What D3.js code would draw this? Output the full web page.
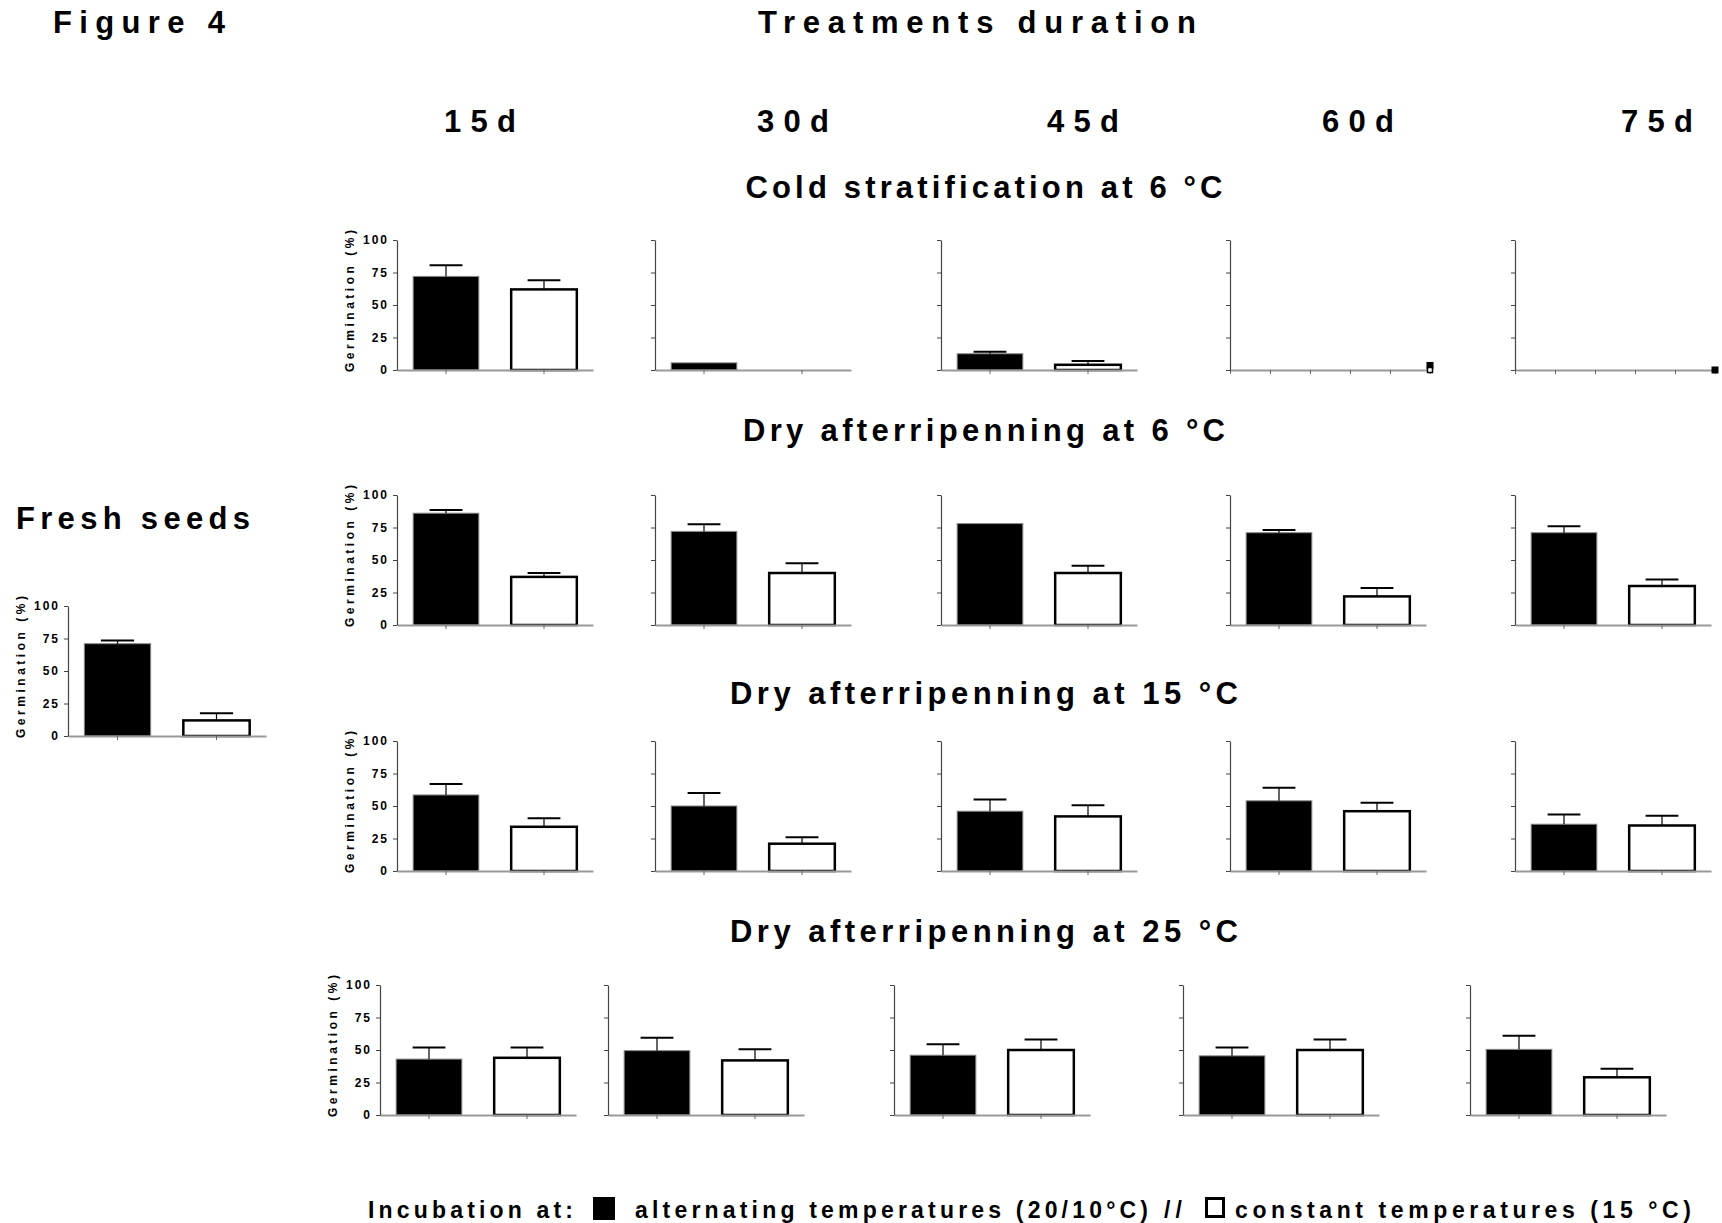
<!DOCTYPE html>
<html>
<head>
<meta charset="utf-8">
<script src="https://d3js.org/d3.v7.min.js"></script>
<style>
body { margin: 0; background: #fff; }
svg text { font-family: "Liberation Sans", Arial, sans-serif; font-weight: bold; fill: #000; }
.yax .domain { stroke: #444; stroke-width: 1.2; }
.yax .tick line { stroke: #444; }
.xax .domain { stroke: #999; stroke-width: 2; }
.xax .tick line { stroke: #666; }
.yax .tick text { font-size: 12px; letter-spacing: 2px; }
</style>
</head>
<body>
<script>
// durations (columns) and treatments (rows)
var durations = ["15d", "30d", "45d", "60d", "75d"];
var treatments = ["Cold stratification at 6 °C", "Dry afterripenning at 6 °C",
                  "Dry afterripenning at 15 °C", "Dry afterripenning at 25 °C"];
var yTicks = [0, 25, 50, 75, 100];
var incubations = ["alt", "const"];

// germination (%) means and sem, alternating 20/10 °C vs constant 15 °C
var freshAlt = 71, freshAltSem = 2.5;
var freshConst = 12, freshConstSem = 5.5;

var coldAlt      = [72, 5.5, 12.5];
var coldAltSem   = [8.5, 0, 1.5];
var coldConst    = [62, 0, 4];
var coldConstSem = [7, 0, 3];
// 60d and 75d cold stratification: only tiny markers at the last x position
var coldLateAlt   = [3.5, 0];
var coldLateConst = [0, null];

var dry6Alt      = [86, 72, 78, 71, 71];
var dry6AltSem   = [2.5, 5.5, 0, 2, 5];
var dry6Const    = [37, 40, 40, 22, 30];
var dry6ConstSem = [3, 7.5, 5.5, 6.5, 5];

var dry15Alt      = [58.5, 50, 46, 54, 36];
var dry15AltSem   = [8.5, 10, 9, 10, 7.5];
var dry15Const    = [34, 21, 42, 46, 35];
var dry15ConstSem = [6.5, 5, 8.5, 6.5, 7.5];

var dry25Alt      = [43, 49.5, 46, 45.5, 50.5];
var dry25AltSem   = [9, 10, 8.5, 6.5, 10.5];
var dry25Const    = [44, 42, 50, 50, 29];
var dry25ConstSem = [8, 8.5, 8, 8, 6.5];

// layout
var W = 1722, H = 1223;
var panelW = 196, panelH = 130;
var rowTop = [240, 495, 741, 985];
var colLeft = [[397, 655, 941, 1230, 1515], [397, 655, 941, 1230, 1515],
               [397, 655, 941, 1230, 1515], [380, 608, 894, 1183, 1470]];

var svg = d3.select("body").append("svg")
    .attr("width", W)
    .attr("height", H);

function spaced(x, y, str, size, len, anchor) {
  return svg.append("text")
      .attr("x", x).attr("y", y)
      .attr("text-anchor", anchor || "middle")
      .attr("font-size", size)
      .attr("textLength", len)
      .attr("lengthAdjust", "spacing")
      .text(str);
}

var yScale = d3.scaleLinear().domain([0, 100]).range([panelH, 0]);

function yAxis(g, labels) {
  g.append("g")
      .attr("class", "yax")
      .call(d3.axisLeft(yScale).tickValues(yTicks).tickSize(4).tickSizeOuter(0).tickPadding(4)
        .tickFormat(labels ? d3.format("d") : ""));
  if (labels) {
    g.append("text")
        .attr("transform", "translate(-43," + (panelH / 2 - 4) + ") rotate(-90)")
        .attr("text-anchor", "middle")
        .attr("font-size", 12)
        .attr("textLength", 142)
        .attr("lengthAdjust", "spacing")
        .text("Germination (%)");
  }
}

function barPanel(x0, y0, w, alt, altSem, cons, consSem, labels) {
  var g = svg.append("g").attr("transform", "translate(" + x0 + "," + y0 + ")");
  var x = d3.scaleBand().domain(incubations).range([0, w]).paddingInner(0.33).paddingOuter(0.165);
  var data = [{k: "alt", v: alt, e: altSem}, {k: "const", v: cons, e: consSem}];

  g.selectAll(".bar").data(data).enter().append("rect")
      .attr("x", function(d) { return x(d.k); })
      .attr("y", function(d) { return yScale(d.v); })
      .attr("width", x.bandwidth())
      .attr("height", function(d) { return panelH - yScale(d.v); })
      .attr("fill", function(d) { return d.k == "alt" ? "#000" : "#fff"; })
      .attr("stroke", function(d) { return d.k == "alt" ? "#888" : "#000"; })
      .attr("stroke-width", function(d) { return d.k == "alt" ? 1 : 2.5; });

  var err = data.filter(function(d) { return d.v > 0 && d.e > 0; });
  g.selectAll(".ev").data(err).enter().append("line")
      .attr("x1", function(d) { return x(d.k) + x.bandwidth() / 2; })
      .attr("x2", function(d) { return x(d.k) + x.bandwidth() / 2; })
      .attr("y1", function(d) { return yScale(d.v); })
      .attr("y2", function(d) { return yScale(d.v + d.e); })
      .attr("stroke", "#000").attr("stroke-width", 1.2);
  g.selectAll(".ec").data(err).enter().append("line")
      .attr("x1", function(d) { return x(d.k) + x.bandwidth() / 4; })
      .attr("x2", function(d) { return x(d.k) + x.bandwidth() * 3 / 4; })
      .attr("y1", function(d) { return yScale(d.v + d.e); })
      .attr("y2", function(d) { return yScale(d.v + d.e); })
      .attr("stroke", "#000").attr("stroke-width", 2);

  g.append("g")
      .attr("class", "xax")
      .attr("transform", "translate(0," + panelH + ")")
      .call(d3.axisBottom(x).tickSize(4).tickSizeOuter(0).tickFormat(""));
  yAxis(g, labels);
}

function markerPanel(x0, y0, w, altV, constV) {
  var g = svg.append("g").attr("transform", "translate(" + x0 + "," + y0 + ")");
  var x = d3.scaleLinear().domain([0, 5]).range([0, w]);
  g.append("g")
      .attr("class", "xax")
      .attr("transform", "translate(0," + panelH + ")")
      .call(d3.axisBottom(x).tickValues(d3.range(6)).tickSize(4).tickSizeOuter(0).tickFormat(""));
  yAxis(g, false);
  if (altV != null) {
    g.append("rect")
        .attr("x", x(5) - 3.5).attr("y", yScale(altV) - 3.5)
        .attr("width", 7).attr("height", 7).attr("fill", "#000");
  }
  if (constV != null) {
    g.append("rect")
        .attr("x", x(5) - 2.5).attr("y", yScale(constV) - 2.5)
        .attr("width", 5).attr("height", 5)
        .attr("fill", "#fff").attr("stroke", "#000").attr("stroke-width", 1.5);
  }
}

// headers
spaced(53, 33, "Figure 4", 31, 172, "start");
spaced(977, 33, "Treatments duration", 31, 438);
var headX = [480, 793, 1083, 1358, 1657];
durations.forEach(function(d, i) { spaced(headX[i], 132, d, 31, 72); });

var titleY = [198, 441, 704, 942];
var titleLen = [477, 482, 508, 508];
treatments.forEach(function(t, i) { spaced(984, titleY[i], t, 31, titleLen[i]); });

spaced(16, 529, "Fresh seeds", 31, 234, "start");

// fresh seeds
barPanel(68, 606, 198, freshAlt, freshAltSem, freshConst, freshConstSem, true);

// cold stratification
for (var i = 0; i < 3; i++) {
  barPanel(colLeft[0][i], rowTop[0], panelW, coldAlt[i], coldAltSem[i], coldConst[i], coldConstSem[i], i == 0);
}
markerPanel(colLeft[0][3], rowTop[0], 200, coldLateAlt[0], coldLateConst[0]);
markerPanel(colLeft[0][4], rowTop[0], 200, coldLateAlt[1], coldLateConst[1]);

var dryRows = [
  [dry6Alt, dry6AltSem, dry6Const, dry6ConstSem],
  [dry15Alt, dry15AltSem, dry15Const, dry15ConstSem],
  [dry25Alt, dry25AltSem, dry25Const, dry25ConstSem]
];
dryRows.forEach(function(r, ri) {
  durations.forEach(function(d, ci) {
    barPanel(colLeft[ri + 1][ci], rowTop[ri + 1], panelW, r[0][ci], r[1][ci], r[2][ci], r[3][ci], ci == 0);
  });
});

// legend
spaced(368, 1218, "Incubation at:", 23, 205, "start");
svg.append("rect").attr("x", 593).attr("y", 1197).attr("width", 22).attr("height", 23).attr("fill", "#000");
spaced(635, 1218, "alternating temperatures (20/10°C)", 23, 513, "start");
spaced(1164, 1218, "//", 23, 18, "start");
svg.append("rect").attr("x", 1206.5).attr("y", 1198.5).attr("width", 17).attr("height", 18)
    .attr("fill", "#fff").attr("stroke", "#000").attr("stroke-width", 3);
spaced(1235, 1218, "constant temperatures  (15 °C)", 23, 456, "start");
</script>
</body>
</html>
